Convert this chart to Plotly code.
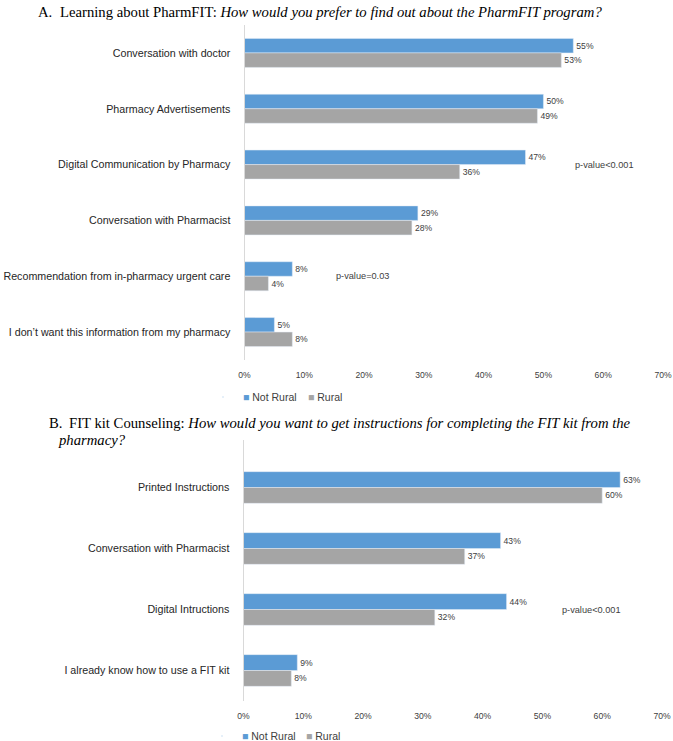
import plotly.graph_objects as go

# ---- Data ----
cats_a = ["Conversation with doctor", "Pharmacy Advertisements", "Digital Communication by Pharmacy",
          "Conversation with Pharmacist", "Recommendation from in-pharmacy urgent care",
          "I don\u2019t want this information from my pharmacy"]
not_rural_a = [55, 50, 47, 29, 8, 5]
rural_a = [53, 49, 36, 28, 4, 8]

cats_b = ["Printed Instructions", "Conversation with Pharmacist", "Digital Intructions",
          "I already know how to use a FIT kit"]
not_rural_b = [63, 43, 44, 9]
rural_b = [60, 37, 32, 8]

series_names = ["Not Rural", "Rural"]
x_ticks = [0, 10, 20, 30, 40, 50, 60, 70]
x_tick_labels = [f"{v}%" for v in x_ticks]

BLUE = "#5B9BD5"
GRAY = "#A5A5A5"
COLORS = [BLUE, GRAY]
W, H = 673, 741
SANS = "Liberation Sans, Arial, sans-serif"
SERIF = "Liberation Serif, Times New Roman, serif"
SMALL = 8.6
PVAL = 9.2
CAT = 10.7
LEG = 10.5
TITLE = 14.7


def py(px):
    return 1 - px / H


def pxx(px):
    return px / W


fig = go.Figure()


def add_pair(cats, nr, r, yax, xax):
    for name, vals, col in zip(series_names, [nr, r], COLORS):
        fig.add_trace(go.Bar(y=cats, x=vals, orientation="h", name=name, marker_color=col,
                             text=[f"{v}%" for v in vals], textposition="outside",
                             textfont=dict(size=SMALL, color="#404040", family=SANS),
                             xaxis=xax, yaxis=yax, showlegend=False, cliponaxis=False))


add_pair(cats_a, not_rural_a, rural_a, "y", "x")
add_pair(cats_b, not_rural_b, rural_b, "y2", "x2")

# legend entries (one legend per entry so they can sit close together like the original)
legend_ids = ["legend", "legend2", "legend3", "legend4"]
for i, lid in enumerate(legend_ids):
    name = series_names[i % 2]
    col = COLORS[i % 2]
    fig.add_trace(go.Scatter(x=[None], y=[None], mode="markers",
                             marker=dict(opacity=0, size=1, color=col),
                             name=f'<span style="color:{col}">\u25A0</span> {name}',
                             legend=lid, showlegend=True,
                             xaxis="x" if i < 2 else "x2", yaxis="y" if i < 2 else "y2"))

xcommon = dict(range=[0, 70], tickvals=x_ticks, ticktext=x_tick_labels, showgrid=False,
               zeroline=False, showline=False, ticks="", ticklabelstandoff=8, automargin=False,
               tickfont=dict(size=SMALL, color="#404040", family=SANS), fixedrange=True)
ycommon = dict(showgrid=False, zeroline=False, showline=True, linecolor="#D9D9D9", linewidth=1,
               ticks="", ticklabelstandoff=11, automargin=False,
               tickfont=dict(size=CAT, color="#262626", family=SANS), type="category")

leg_common = dict(orientation="h", xanchor="left", yanchor="middle", bgcolor="rgba(0,0,0,0)",
                  font=dict(size=LEG, color="#404040", family=SANS), itemwidth=30,
                  tracegroupgap=0, borderwidth=0)

fig.update_layout(
    width=W, height=H, margin=dict(l=0, r=0, t=0, b=0, autoexpand=False),
    paper_bgcolor="white", plot_bgcolor="white",
    barmode="group", bargap=0.48, bargroupgap=0,
    xaxis=dict(domain=[pxx(244.5), pxx(663)], anchor="y", **xcommon),
    yaxis=dict(domain=[py(360), py(25)], anchor="x", range=[5.5, -0.5], **ycommon),
    xaxis2=dict(domain=[pxx(243.5), pxx(662)], anchor="y2", **xcommon),
    yaxis2=dict(domain=[py(701), py(440)], anchor="x2", range=[3.5, -0.779], **ycommon),
    legend=dict(x=pxx(244 - 41), y=py(397), **leg_common),
    legend2=dict(x=pxx(309 - 41), y=py(397), **leg_common),
    legend3=dict(x=pxx(243 - 41), y=py(736), **leg_common),
    legend4=dict(x=pxx(307 - 41), y=py(736), **leg_common),
    showlegend=True,
)

ann_font = dict(size=PVAL, color="#404040", family=SANS)
fig.add_annotation(x=54.9, y=cats_a[2], xref="x", yref="y", text="p-value<0.001",
                   showarrow=False, xanchor="left", font=ann_font)
fig.add_annotation(x=14.9, y=cats_a[4], xref="x", yref="y", text="p-value=0.03",
                   showarrow=False, xanchor="left", font=ann_font)
fig.add_annotation(x=53.0, y=cats_b[2], xref="x2", yref="y2", text="p-value<0.001",
                   showarrow=False, xanchor="left", font=ann_font)

tfont = dict(size=TITLE, color="black", family=SERIF)
titles = [
    (36, 12, "A."),
    (58, 12, "Learning about PharmFIT: <i>How would you prefer to find out about the PharmFIT program?</i>"),
    (47, 423, "B."),
    (67, 423, "FIT kit Counseling: <i>How would you want to get instructions for completing the FIT kit from the</i>"),
    (56, 440, "<i>pharmacy?</i>"),
]
for x, y, t in titles:
    fig.add_annotation(x=pxx(x), y=py(y), xref="paper", yref="paper", text=t, showarrow=False,
                       xanchor="left", yanchor="middle", font=tfont)

fig.write_html("out.html", config={"displayModeBar": False},
               post_script="document.body.style.margin='0';")
